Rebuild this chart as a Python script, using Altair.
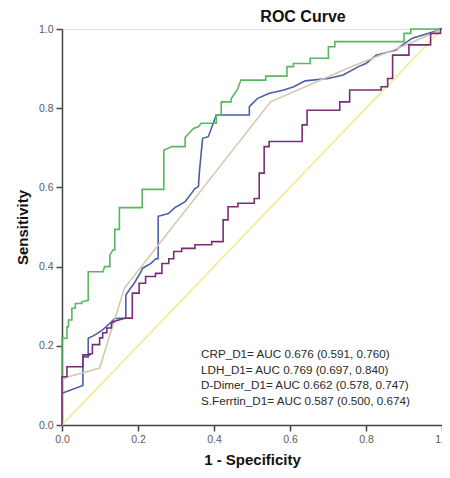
import altair as alt
import pandas as pd

# ROC curve vertices (x = 1 - specificity, y = sensitivity)
crp_x = [0, 0, 0.055, 0.055, 0.069, 0.069, 0.082, 0.094, 0.107, 0.126, 0.139, 0.168, 0.168, 0.177, 0.19,
         0.208, 0.212, 0.234, 0.247, 0.253, 0.253, 0.28, 0.297, 0.324, 0.35, 0.359, 0.362, 0.37, 0.385,
         0.406, 0.493, 0.493, 0.515, 0.546, 0.584, 0.61, 0.64, 0.70, 0.74, 0.78, 0.80, 0.827, 0.879,
         0.896, 0.922, 0.965, 1.0]
crp_y = [0, 0.08, 0.10, 0.172, 0.172, 0.219, 0.225, 0.232, 0.24, 0.257, 0.269, 0.27, 0.328, 0.341, 0.358,
         0.387, 0.396, 0.408, 0.42, 0.42, 0.527, 0.534, 0.549, 0.564, 0.597, 0.602, 0.644, 0.724, 0.728,
         0.783, 0.783, 0.804, 0.825, 0.838, 0.846, 0.854, 0.869, 0.875, 0.884, 0.905, 0.913, 0.934, 0.947,
         0.96, 0.977, 0.989, 1.0]

ldh_x = [0, 0, 0.013, 0.013, 0.017, 0.017, 0.026, 0.026, 0.035, 0.035, 0.052, 0.052, 0.069, 0.069, 0.108,
         0.112, 0.126, 0.126, 0.134, 0.139, 0.139, 0.151, 0.151, 0.211, 0.211, 0.268, 0.268, 0.289, 0.324,
         0.324, 0.337, 0.346, 0.359, 0.366, 0.406, 0.406, 0.419, 0.419, 0.445, 0.445, 0.461, 0.471, 0.536,
         0.536, 0.592, 0.592, 0.609, 0.609, 0.653, 0.653, 0.701, 0.701, 0.718, 0.718, 0.90, 0.90, 0.918,
         0.918, 1.0]
ldh_y = [0, 0.219, 0.219, 0.248, 0.248, 0.265, 0.265, 0.295, 0.295, 0.307, 0.307, 0.311, 0.315, 0.387, 0.387,
         0.40, 0.40, 0.429, 0.442, 0.442, 0.494, 0.494, 0.549, 0.549, 0.595, 0.595, 0.694, 0.703, 0.703,
         0.726, 0.74, 0.749, 0.753, 0.762, 0.762, 0.783, 0.783, 0.816, 0.816, 0.824, 0.846, 0.871, 0.871,
         0.881, 0.881, 0.905, 0.905, 0.913, 0.913, 0.926, 0.926, 0.955, 0.955, 0.968, 0.968, 0.989, 0.989,
         1.0, 1.0]

ddimer_x = [0, 0, 0.01, 0.099, 0.164, 0.549, 0.75, 0.913, 1.0]
ddimer_y = [0, 0.11, 0.12, 0.144, 0.345, 0.816, 0.90, 0.963, 1.0]

ferr_x = [0, 0, 0.013, 0.013, 0.055, 0.055, 0.073, 0.073, 0.08, 0.08, 0.099, 0.099, 0.107, 0.107, 0.118,
          0.118, 0.13, 0.13, 0.138, 0.168, 0.185, 0.185, 0.203, 0.203, 0.22, 0.22, 0.246, 0.246, 0.263,
          0.263, 0.281, 0.281, 0.294, 0.294, 0.315, 0.315, 0.35, 0.35, 0.394, 0.394, 0.424, 0.424, 0.437,
          0.437, 0.463, 0.463, 0.506, 0.506, 0.519, 0.519, 0.532, 0.532, 0.545, 0.545, 0.632, 0.632, 0.645,
          0.645, 0.731, 0.731, 0.757, 0.757, 0.84, 0.84, 0.857, 0.857, 0.87, 0.87, 0.913, 0.913, 0.97,
          0.97, 0.996, 0.996, 1.0]
ferr_y = [0, 0.122, 0.122, 0.147, 0.147, 0.177, 0.177, 0.18, 0.18, 0.203, 0.203, 0.22, 0.22, 0.233, 0.233,
          0.245, 0.245, 0.257, 0.262, 0.27, 0.27, 0.333, 0.333, 0.358, 0.358, 0.375, 0.375, 0.383, 0.383,
          0.408, 0.408, 0.42, 0.42, 0.438, 0.438, 0.446, 0.446, 0.455, 0.455, 0.463, 0.463, 0.518, 0.518,
          0.551, 0.551, 0.56, 0.56, 0.572, 0.572, 0.636, 0.636, 0.703, 0.703, 0.716, 0.716, 0.758, 0.758,
          0.795, 0.795, 0.816, 0.816, 0.846, 0.846, 0.854, 0.854, 0.875, 0.875, 0.934, 0.934, 0.96, 0.96,
          0.989, 0.989, 1.0, 1.0]

ref_x = [0.0, 1.0]
ref_y = [0.0, 1.0]

series_names = ["CRP_D1", "LDH_D1", "D-Dimer_D1", "S.Ferrtin_D1"]
series_colors = ["#4a5fa6", "#57b85e", "#d4c8b0", "#7a2c77"]

title_text = ["ROC Curve"]
auc_labels = [
    "CRP_D1= AUC 0.676 (0.591, 0.760)",
    "LDH_D1= AUC 0.769 (0.697, 0.840)",
    "D-Dimer_D1=  AUC 0.662 (0.578, 0.747)",
    "S.Ferrtin_D1= AUC 0.587 (0.500, 0.674)",
]
tick_values = [0.0, 0.2, 0.4, 0.6, 0.8, 1.0]

rows = []
for name, xs, ys in zip(series_names, [crp_x, ldh_x, ddimer_x, ferr_x], [crp_y, ldh_y, ddimer_y, ferr_y]):
    for i, (a, b) in enumerate(zip(xs, ys)):
        rows.append({"series": name, "x": a, "y": b, "i": i})
df = pd.DataFrame(rows)
ref_df = pd.DataFrame({"x": ref_x, "y": ref_y})
one_row = pd.DataFrame({"t": title_text})

xscale = alt.Scale(domain=[0, 1], nice=False)
yscale = alt.Scale(domain=[0, 1], nice=False)

common_axis = dict(values=tick_values, format=".1f", grid=False, labelColor="#5a5a5a", labelFontSize=10.5,
                   labelFont="Liberation Sans", labelFlush=False, labelOverlap=False,
                   tickColor="#444444", tickSize=6, tickWidth=1.5,
                   domainColor="#444444", domainWidth=1.5, titleColor="#111111", titleFontSize=15,
                   titleFont="Liberation Sans", titleFontWeight="bold")

xax = alt.Axis(title="1 - Specificity", titlePadding=8, labelPadding=3, labelBound=False, **common_axis)
yax = alt.Axis(title="Sensitivity", titlePadding=8, labelPadding=3, **common_axis)

ref = alt.Chart(ref_df).mark_line(color="#f2efa6", strokeWidth=2).encode(
    x=alt.X("x:Q", scale=xscale, axis=xax),
    y=alt.Y("y:Q", scale=yscale, axis=yax),
)

curves = alt.Chart(df).mark_line(strokeWidth=1.6).encode(
    x=alt.X("x:Q", scale=xscale),
    y=alt.Y("y:Q", scale=yscale),
    color=alt.Color("series:N", scale=alt.Scale(domain=series_names, range=series_colors), legend=None),
    order=alt.Order("i:Q"),
    detail="series:N",
)

auc_text = alt.Chart(one_row).mark_text(
    text=auc_labels, align="left", baseline="top", lineHeight=15.5, fontSize=11.7,
    font="Liberation Sans", color="#2a2a2a",
).encode(x=alt.value(139), y=alt.value(320))

title = alt.Chart(one_row).mark_text(
    align="center", baseline="alphabetic", fontSize=16, fontWeight="bold",
    font="Liberation Sans", color="#111111",
).encode(text="t:N", x=alt.value(241), y=alt.value(-7.5))

chart = alt.layer(ref, curves, auc_text, title).properties(
    width=380, height=396,
    autosize=alt.AutoSizeParams(type="none"),
    padding={"left": 54, "top": 21, "right": 0, "bottom": 44},
).configure_view(fill="#f0f0f0", stroke="#444444", strokeWidth=1.5).configure(background="white")

chart.save("out.html", embed_options={"renderer": "svg", "actions": False})
